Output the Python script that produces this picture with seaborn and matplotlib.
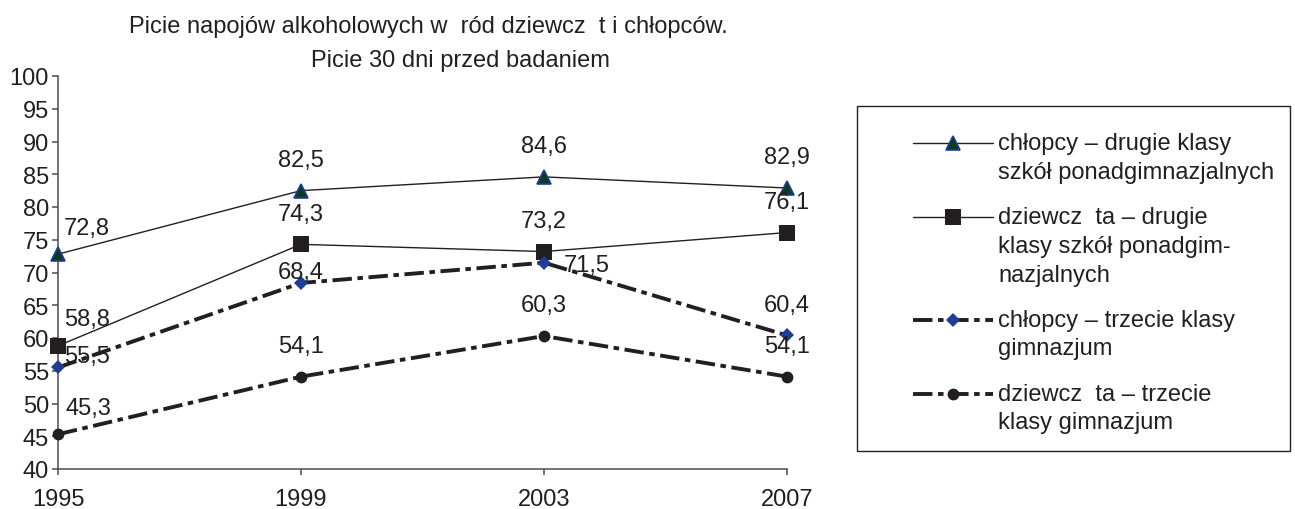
import numpy as np
import pandas as pd
import matplotlib
matplotlib.use('Agg')
import matplotlib.pyplot as plt
import seaborn as sns
from matplotlib.legend_handler import HandlerLine2D
from matplotlib.patches import Rectangle

# data
years = [1995, 1999, 2003, 2007]
boys_2nd = [72.8, 82.5, 84.6, 82.9]
girls_2nd = [58.8, 74.3, 73.2, 76.1]
boys_3rd = [55.5, 68.4, 71.5, 60.4]
girls_3rd = [45.3, 54.1, 60.3, 54.1]

series_names = [
    'chłopcy – drugie klasy\nszkół ponadgimnazjalnych',
    'dziewcz  ta – drugie\nklasy szkół ponadgim-\nnazjalnych',
    'chłopcy – trzecie klasy\ngimnazjum',
    'dziewcz  ta – trzecie\nklasy gimnazjum',
]
title_1 = 'Picie napojów alkoholowych w  ród dziewcz  t i chłopców.'
title_2 = 'Picie 30 dni przed badaniem'
y_ticks = list(range(40, 101, 5))

rows = []
for name, vals in zip(series_names, [boys_2nd, girls_2nd, boys_3rd, girls_3rd]):
    for yr, v in zip(years, vals):
        rows.append({'series': name, 'year': yr, 'value': v})
df = pd.DataFrame(rows)

ink = '#231f20'
navy = '#1f3d96'
dashdot = (0, (14, 4, 4, 4))
styles = [
    dict(marker='^', ms=9.5, mfc='#0c3b1e', mec=navy, mew=1.2, lw=1.0, ls='-'),
    dict(marker='s', ms=12, mfc=ink, mec=ink, mew=0, lw=1.0, ls='-'),
    dict(marker='D', ms=7.5, mfc=navy, mec=navy, mew=0, lw=2.8, ls=dashdot),
    dict(marker='o', ms=8.5, mfc=ink, mec=ink, mew=0, lw=2.8, ls=dashdot),
]

# label offsets in points (default: centred above the point)
default_offset = (0, 22)
label_offsets = {
    (0, 1995): (21, 19), (1, 1995): (21, 19), (2, 1995): (21, 8), (3, 1995): (22, 19),
    (2, 1999): (0, 8), (2, 2003): (31, -2),
}

sns.set_style('white')
plt.rcParams['font.family'] = ['Liberation Sans', 'DejaVu Sans']
plt.rcParams['font.size'] = 17
plt.rcParams['text.color'] = ink
plt.rcParams['lines.scale_dashes'] = False

fig = plt.figure(figsize=(12.95, 5.1), dpi=100)
ax = fig.add_axes([58 / 1295, 1 - 470 / 510, (787 - 58) / 1295, (470 - 77) / 510])

handles = []
for i, name in enumerate(series_names):
    sub = df[df['series'] == name]
    st = styles[i]
    sns.lineplot(data=sub, x='year', y='value', ax=ax, color=ink, legend=False,
                 marker=st['marker'], markersize=st['ms'], markerfacecolor=st['mfc'],
                 markeredgecolor=st['mec'], markeredgewidth=st['mew'],
                 linewidth=st['lw'], linestyle=st['ls'], clip_on=False, zorder=3 + i)
    handles.append(ax.lines[-1])
    for yr, v in zip(sub['year'], sub['value']):
        off = label_offsets.get((i, yr), default_offset)
        ax.annotate(f'{v:.1f}'.replace('.', ','), (yr, v), xytext=off,
                    textcoords='offset points', ha='center', va='center',
                    fontsize=17, color=ink, zorder=10)

ax.set_xlim(1995, 2007)
ax.set_ylim(40, 100)
ax.set_xticks(years)
ax.set_yticks(y_ticks)
ax.set_xlabel('')
ax.set_ylabel('')
sns.despine(ax=ax)
for s in ['left', 'bottom']:
    ax.spines[s].set_color('#4d4d4f')
    ax.spines[s].set_linewidth(1.1)
ax.tick_params(axis='both', colors='#4d4d4f', labelcolor=ink, labelsize=17,
               length=4.5, width=1.1, direction='out')
ax.tick_params(axis='y', left=True, pad=2)
ax.tick_params(axis='x', bottom=True, pad=9)

fig.text(428 / 1295, 1 - 27 / 510, title_1, ha='center', va='center', fontsize=17)
fig.text(460 / 1295, 1 - 61 / 510, title_2, ha='center', va='center', fontsize=17)


class FirstLineHandler(HandlerLine2D):
    # put the legend sample next to the first line of a multi-line label
    def __init__(self, nlines, pitch=1.22, **kw):
        super().__init__(**kw)
        self.nlines = nlines
        self.pitch = pitch

    def create_artists(self, legend, orig_handle, xdescent, ydescent, width, height, fontsize, trans):
        arts = super().create_artists(legend, orig_handle, xdescent, ydescent,
                                      width, height, fontsize, trans)
        dy = 0.5 * (self.nlines - 1) * self.pitch * fontsize
        for a in arts:
            a.set_ydata(np.asarray(a.get_ydata()) + dy)
        return arts


hmap = {h: FirstLineHandler(n.count('\n') + 1) for h, n in zip(handles, series_names)}
leg = fig.legend(handles, series_names, handler_map=hmap, loc='upper left',
                 bbox_to_anchor=(913 / 1295, 1 - 133 / 510), bbox_transform=fig.transFigure,
                 frameon=False, borderpad=0, borderaxespad=0, numpoints=1, handlelength=3.4,
                 handletextpad=0.2, labelspacing=0.98, fontsize=17)
for t in leg.get_texts():
    t.set_linespacing(1.4)
    t.set_color(ink)

fig.add_artist(Rectangle((857 / 1295, 1 - 452 / 510), (1290 - 857) / 1295, (452 - 107) / 510,
                         transform=fig.transFigure, fill=False, ec=ink, lw=1.0))

fig.savefig('out.png', dpi=100)
